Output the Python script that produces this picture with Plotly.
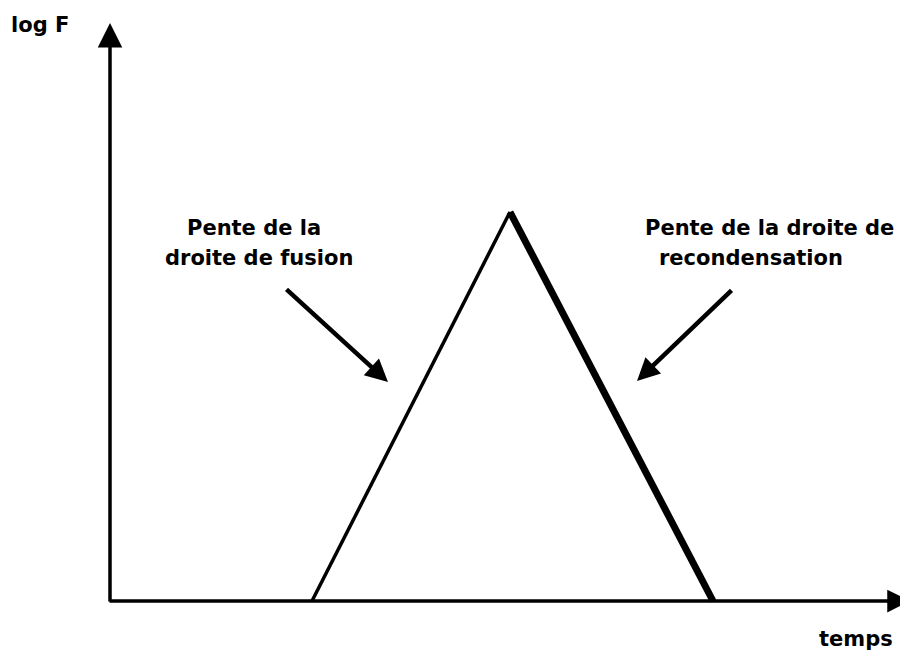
import plotly.graph_objects as go

# Schematic data (arbitrary units: 1 unit = 100 px)
rise_time = [2.02, 4.00]
rise_logF = [0.0, 3.89]
fall_time = [4.00, 6.03]
fall_logF = [3.89, 0.0]

axis_origin = (0.0, 0.0)
x_axis_end = 8.0
y_axis_end = 5.78

axis_labels = {"x": "temps", "y": "log F"}
left_label = ["Pente de la", "droite de fusion"]
right_label = ["Pente de la droite de", "recondensation"]

left_arrow = {"from": (1.75, 3.13), "to": (2.78, 2.19)}
right_arrow = {"from": (6.23, 3.12), "to": (5.27, 2.20)}

FONT = "DejaVu Sans"

fig = go.Figure()
fig.add_trace(go.Scatter(x=rise_time, y=rise_logF, mode="lines",
                         line=dict(color="black", width=3.5), hoverinfo="skip"))
fig.add_trace(go.Scatter(x=fall_time, y=fall_logF, mode="lines",
                         line=dict(color="black", width=7), hoverinfo="skip"))

ann = []
# axes with arrowheads
ann.append(dict(x=axis_origin[0], y=y_axis_end, ax=axis_origin[0], ay=axis_origin[1] - 0.02,
                xref="x", yref="y", axref="x", ayref="y", text="", showarrow=True,
                arrowhead=2, arrowwidth=3.5, arrowsize=1.4, arrowcolor="black"))
ann.append(dict(x=x_axis_end, y=axis_origin[1], ax=axis_origin[0] - 0.02, ay=axis_origin[1],
                xref="x", yref="y", axref="x", ayref="y", text="", showarrow=True,
                arrowhead=2, arrowwidth=3.5, arrowsize=1.3, arrowcolor="black"))
# pointer arrows
for a in (left_arrow, right_arrow):
    ann.append(dict(x=a["to"][0], y=a["to"][1], ax=a["from"][0], ay=a["from"][1],
                    xref="x", yref="y", axref="x", ayref="y", text="", showarrow=True,
                    arrowhead=2, arrowwidth=4.5, arrowsize=1.0, arrowcolor="black"))

tfont = dict(family=FONT, size=21, color="black", weight="bold")
# texts
ann.append(dict(x=-1.01, y=5.76, xref="x", yref="y", text=axis_labels["y"], showarrow=False,
                xanchor="left", yanchor="middle", font=tfont))
ann.append(dict(x=7.07, y=-0.38, xref="x", yref="y", text=axis_labels["x"], showarrow=False,
                xanchor="left", yanchor="middle", font=tfont))
for txt, xx, yy in zip(left_label, [0.75, 0.53], [3.73, 3.43]):
    ann.append(dict(x=xx, y=yy, xref="x", yref="y", text=txt, showarrow=False,
                    xanchor="left", yanchor="middle", font=tfont))
for txt, xx, yy in zip(right_label, [5.33, 5.47], [3.73, 3.43]):
    ann.append(dict(x=xx, y=yy, xref="x", yref="y", text=txt, showarrow=False,
                    xanchor="left", yanchor="middle", font=tfont))

# The page places the figure 8 px from the window's top-left corner;
# axis ranges are chosen so the drawing lands where the reference has it.
fig.update_layout(
    width=908, height=654,
    margin=dict(l=0, r=0, t=0, b=0),
    paper_bgcolor="white", plot_bgcolor="white",
    showlegend=False,
    annotations=ann,
    xaxis=dict(range=[-1.02, 8.06], visible=False),
    yaxis=dict(range=[-0.61, 5.93], visible=False),
)
fig.write_html("out.html")
